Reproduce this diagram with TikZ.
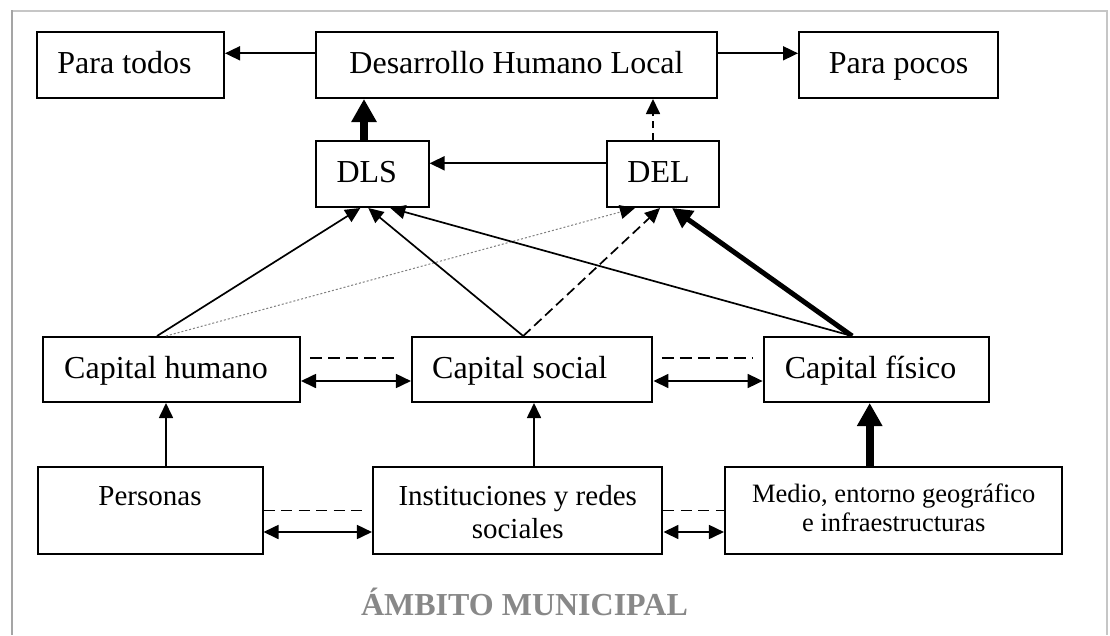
\documentclass[tikz,border=0pt]{standalone}
\usepackage{fontspec}
\setmainfont{Liberation Serif}
\usetikzlibrary{arrows.meta}
\begin{document}
\begin{tikzpicture}[x=1pt,y=-1pt,
  box/.style={draw, line width=2pt, inner sep=0pt, minimum height=66pt,
    font=\fontsize{32}{38}\selectfont, text height=22pt, text depth=5pt},
  lowbox/.style={draw, line width=2pt, inner sep=0pt, minimum height=87pt},
  arr/.style={line width=1.7pt, >={Triangle[length=15pt,width=14pt]}},
  bigarr/.style={line width=8pt, >={Triangle[length=23pt,width=24pt]}},
  midarr/.style={line width=5pt, >={Triangle[length=20pt,width=20pt]}},
  dsh/.style={line width=1.7pt, dash pattern=on 12pt off 6pt},
  dsharr/.style={arr, dash pattern=on 10pt off 5pt},
  dotarr/.style={draw=gray, line width=1pt, dash pattern=on 2pt off 2pt,
    -{Triangle[length=15pt,width=14pt,color=black]}},
]
% background and frame
\fill[white] (0,0) rectangle (1110,635);
\useasboundingbox (0,0) rectangle (1110,635);
\draw[color={rgb,255:red,198;green,198;blue,198}, line width=2pt] (12,11) -- (1107,11) -- (1107,635);
\draw[color={rgb,255:red,165;green,165;blue,165}, line width=2.2pt] (12,10) -- (12,635);

% top row
\node[box, minimum width=187pt] (pt) at (130.5,65) {Para todos\hspace*{12pt}};
\node[box, minimum width=401pt] (dhl) at (516.5,65) {Desarrollo Humano Local};
\node[box, minimum width=199pt] (pp) at (898.5,65) {Para pocos};
% second row
\node[box, minimum width=112.5pt] (dls) at (372.3,174) {DLS\hspace*{11pt}};
\node[box, minimum width=112pt] (del) at (663,174) {DEL\hspace*{9pt}};
% capital row
\node[box, minimum width=257pt, minimum height=65pt] (ch) at (171.5,369.5) {Capital humano\hspace*{11pt}};
\node[box, minimum width=240.5pt, minimum height=65pt] (cs) at (532.2,369.5) {Capital social\hspace*{25pt}};
\node[box, minimum width=225pt, minimum height=65pt] (cf) at (876.1,369.5) {Capital físico\hspace*{11pt}};
% bottom row
\node[lowbox, minimum width=225pt, font=\fontsize{29}{33}\selectfont,
  text height=20pt, text depth=31pt] (pe) at (150,510.5) {Personas};
\node[lowbox, minimum width=289.5pt, font=\fontsize{29}{33}\selectfont,
  text height=20pt, text depth=31pt] (in) at (517.7,510.5)
  {\begin{tabular}[t]{@{}c@{}}Instituciones y redes\\sociales\end{tabular}};
\node[lowbox, minimum width=337.5pt, font=\fontsize{26.5}{29}\selectfont,
  text height=20pt, text depth=35.6pt] (me) at (893.7,510.5)
  {\begin{tabular}[t]{@{}c@{}}Medio, entorno geográfico\\e infraestructuras\end{tabular}};
% caption
\node[anchor=base, font=\bfseries\fontsize{32}{38}\selectfont,
  text={rgb,255:red,136;green,136;blue,136}] (amb) at (524.5,615) {ÁMBITO MUNICIPAL};

% top arrows
\draw[arr,->] ([yshift=11.7pt]dhl.west) -- ([yshift=11.7pt]pt.east);
\draw[arr,->] ([yshift=11.7pt]dhl.east) -- ([yshift=11.7pt]pp.west);
\coordinate (a1) at ([xshift=-8.3pt]dls.north);
\draw[bigarr,->] (a1) -- (a1 |- dhl.south);
\coordinate (a2) at ([xshift=-10pt]del.north);
\draw[arr,->,dash pattern=on 7pt off 5pt] (a2) -- (a2 |- dhl.south);
\draw[arr,->] ([yshift=10.7pt]del.west) -- ([yshift=10.7pt]dls.east);

% capital -> DLS / DEL
\draw[arr,->] ([xshift=-14.5pt]ch.north) -- ([xshift=-12pt]dls.south);
\draw[dotarr] ([xshift=-5.5pt]ch.north) -- ([xshift=-28pt]del.south);
\draw[arr,->] ([xshift=-9pt]cs.north) -- ([xshift=-4pt]dls.south);
\draw[dsharr,->] ([xshift=-9pt]cs.north) -- ([xshift=-3pt]del.south);
\draw[arr,->] ([xshift=-24pt]cf.north) -- ([xshift=18pt]dls.south);
\draw[midarr,->] ([xshift=-24pt]cf.north) -- ([xshift=9pt]del.south);

% bottom -> capital
\coordinate (b1) at ([xshift=16pt]pe.north);
\draw[arr,->] (b1) -- (b1 |- ch.south);
\coordinate (b2) at ([xshift=16.3pt]in.north);
\draw[arr,->] (b2) -- (b2 |- cs.south);
\coordinate (b3) at ([xshift=-24pt]me.north);
\draw[bigarr,->] (b3) -- (b3 |- cf.south);

% horizontal links, capital row
\draw[dsh] ([xshift=9pt,yshift=11.2pt]ch.east) -- ([xshift=-12pt,yshift=11.2pt]cs.west);
\draw[arr,<->] ([yshift=-11.5pt]ch.east) -- ([yshift=-11.5pt]cs.west);
\draw[dsh] ([xshift=8.5pt,yshift=11.2pt]cs.east) -- ([xshift=-10pt,yshift=11.2pt]cf.west);
\draw[arr,<->] ([yshift=-11.5pt]cs.east) -- ([yshift=-11.5pt]cf.west);

% horizontal links, bottom row
\draw[dsh, dash pattern=on 11pt off 6.5pt] (pe.east) -- ([xshift=-5pt]in.west);
\draw[arr,<->] ([yshift=-21.5pt]pe.east) -- ([yshift=-21.5pt]in.west);
\draw[dsh, dash pattern=on 11pt off 6.5pt] (in.east) -- (me.west);
\draw[arr,<->] ([yshift=-21.5pt]in.east) -- ([yshift=-21.5pt]me.west);
\end{tikzpicture}
\end{document}
